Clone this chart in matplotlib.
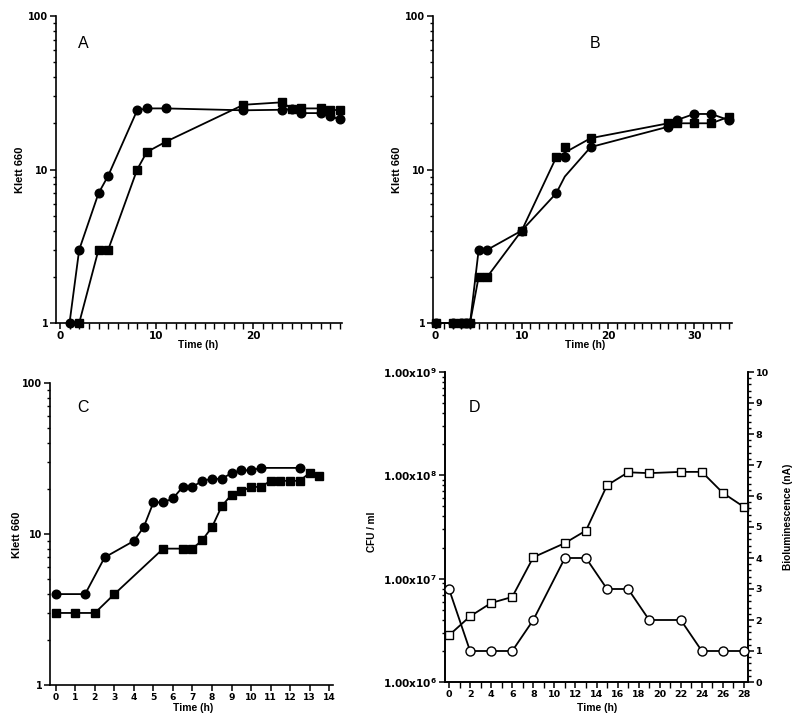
import matplotlib
matplotlib.use('Agg')
import matplotlib.pyplot as plt
from matplotlib.ticker import MultipleLocator, LogLocator, NullFormatter, FixedLocator, FixedFormatter

plt.rcParams['font.family'] = ['Liberation Sans', 'DejaVu Sans']
plt.rcParams['font.weight'] = 'bold'
plt.rcParams['mathtext.fontset'] = 'custom'
plt.rcParams['mathtext.rm'] = 'DejaVu Sans:bold'
plt.rcParams['mathtext.bf'] = 'DejaVu Sans:bold'
plt.rcParams['mathtext.default'] = 'bf'

# ---------------- data ----------------
# Panel A
A_circle_t = [1, 2, 4, 5, 8, 9, 11, 19, 23, 24, 25, 27, 28, 29]
A_circle_v = [1, 3, 7, 9.1, 24.3, 25, 25, 24.3, 24.5, 24.7, 23.3, 23.3, 22.2, 21.2]
A_square_t = [2, 4, 5, 8, 9, 11, 19, 23, 24, 25, 27, 28, 29]
A_square_v = [1, 3, 3, 10, 13, 15.2, 26.4, 27.4, 24.9, 25, 25, 24.3, 24.5]

# Panel B
B_circle_t = [0, 2, 3, 3.5, 4, 5, 6, 10, 14, 15, 18, 27, 28, 30, 32, 34]
B_circle_v = [1, 1, 1, 1, 1, 3, 3, 4, 7, 9, 14, 19, 21, 23, 23, 21]
B_circle_unmarked_t = [15]
B_square_t = [0, 2, 3, 3.5, 4, 5, 6, 10, 14, 18, 27, 28, 30, 32, 34]
B_square_v = [1, 1, 1, 1, 1, 2, 2, 4, 12, 16, 20, 20, 20, 20, 22]
B_extra_circle_t = [15]
B_extra_circle_v = [12]
B_extra_square_t = [15]
B_extra_square_v = [14]

# Panel C
C_circle_t = [0, 1.5, 2.5, 4, 4.5, 5, 5.5, 6, 6.5, 7, 7.5, 8, 8.5, 9, 9.5, 10, 10.5, 12.5]
C_circle_v = [4, 4, 7, 9, 11.1, 16.2, 16.2, 17.2, 20.5, 20.5, 22.5, 23.2, 23.2, 25.3, 26.4, 26.4, 27.4, 27.4]
C_square_t = [0, 1, 2, 3, 5.5, 6.5, 7, 7.5, 8, 8.5, 9, 9.5, 10, 10.5, 11, 11.5, 12, 12.5, 13, 13.5]
C_square_v = [3, 3, 3, 4, 8, 8, 8, 9.1, 11.1, 15.3, 18.2, 19.2, 20.5, 20.5, 22.5, 22.5, 22.5, 22.5, 25.4, 24.4]

# Panel D
D_t = [0, 2, 4, 6, 8, 11, 13, 15, 17, 19, 22, 24, 26, 28]
D_cfu = [2.83e6, 4.32e6, 5.82e6, 6.65e6, 1.61e7, 2.21e7, 2.92e7, 8.0e7, 1.07e8, 1.05e8, 1.08e8, 1.08e8, 6.75e7, 4.94e7]
D_biolum = [3, 1, 1, 1, 2, 4, 4, 3, 3, 2, 2, 1, 1, 1]
D_left_ticks = [1e6, 1e7, 1e8, 1e9]
D_left_labels = ['1.00x10$^{6}$', '1.00x10$^{7}$', '1.00x10$^{8}$', '1.00x10$^{9}$']

# ---------------- figure ----------------
W, H = 800, 727
fig = plt.figure(figsize=(W / 100, H / 100), dpi=100)


def rect(l, r, t, b):
    return [l / W, 1 - b / H, (r - l) / W, (b - t) / H]


LW = 1.3
MS_C = 6.2   # circle marker size
MS_S = 5.4   # square marker size
NUMFONT = 'DejaVu Sans'


def style(ax, xsize=6.6, ysize=6.9, right=False):
    ax.spines['top'].set_visible(False)
    if not right:
        ax.spines['right'].set_visible(False)
    for s in ax.spines.values():
        s.set_linewidth(1.2)
    ax.tick_params(which='major', direction='out', length=4, width=1.1, pad=1.5)
    ax.tick_params(which='minor', direction='out', length=2.2, width=1.0)
    for lab in ax.get_xticklabels():
        lab.set_fontweight('bold')
        lab.set_fontfamily(NUMFONT)
        lab.set_fontsize(xsize)
    for lab in ax.get_yticklabels():
        lab.set_fontweight('bold')
        lab.set_fontfamily(NUMFONT)
        lab.set_fontsize(ysize)


def klett_axis(ax):
    ax.set_yscale('log')
    ax.set_ylim(1, 100)
    ax.yaxis.set_major_locator(FixedLocator([1, 10, 100]))
    ax.yaxis.set_major_formatter(FixedFormatter(['1', '10', '100']))
    ax.yaxis.set_minor_locator(LogLocator(base=10, subs=range(2, 10)))
    ax.yaxis.set_minor_formatter(NullFormatter())


def filled(ax, t, v, marker, markevery=None):
    ms = MS_C if marker == 'o' else MS_S
    ax.plot(t, v, color='black', lw=LW, marker=marker, ms=ms, mfc='black', mec='black',
            clip_on=False, markevery=markevery, zorder=3)


# Panel A
axA = fig.add_axes(rect(56, 342, 16, 323))
klett_axis(axA)
filled(axA, A_circle_t, A_circle_v, 'o')
filled(axA, A_square_t, A_square_v, 's')
axA.set_xlim(-0.4, 29.2)
axA.xaxis.set_major_locator(FixedLocator([0, 10, 20]))
axA.xaxis.set_minor_locator(MultipleLocator(1))
style(axA, xsize=7.5)
axA.tick_params(axis='x', which='minor', length=4)

# Panel B
axB = fig.add_axes(rect(433, 732, 16, 323))
klett_axis(axB)
mk = [i for i, t in enumerate(B_circle_t) if t not in B_circle_unmarked_t]
filled(axB, B_circle_t, B_circle_v, 'o', markevery=mk)
filled(axB, B_square_t, B_square_v, 's')
axB.plot(B_extra_circle_t, B_extra_circle_v, ls='none', marker='o', ms=MS_C, color='black', zorder=3)
axB.plot(B_extra_square_t, B_extra_square_v, ls='none', marker='s', ms=MS_S, color='black', zorder=3)
axB.set_xlim(-0.3, 34.4)
axB.xaxis.set_major_locator(FixedLocator([0, 10, 20, 30]))
axB.xaxis.set_minor_locator(MultipleLocator(1))
style(axB, xsize=7.5)
axB.tick_params(axis='x', which='minor', length=4)

# Panel C
axC = fig.add_axes(rect(50, 333, 383, 685))
klett_axis(axC)
filled(axC, C_circle_t, C_circle_v, 'o')
filled(axC, C_square_t, C_square_v, 's')
axC.set_xlim(-0.3, 14.2)
axC.xaxis.set_major_locator(MultipleLocator(1))
style(axC)

# Panel D
axD = fig.add_axes(rect(445, 748, 372, 682))
axD.set_yscale('log')
axD.set_ylim(1e6, 1e9)
axD.plot(D_t, D_cfu, color='black', lw=LW, marker='s', ms=MS_S + 0.2, mfc='white', mec='black',
         mew=1.0, clip_on=False, zorder=3)
axD.yaxis.set_major_locator(FixedLocator(D_left_ticks))
axD.yaxis.set_major_formatter(FixedFormatter(D_left_labels))
axD.yaxis.set_minor_locator(LogLocator(base=10, subs=range(2, 10)))
axD.yaxis.set_minor_formatter(NullFormatter())
axD.set_xlim(-0.38, 28.38)
axD.xaxis.set_major_locator(MultipleLocator(2))
axD.xaxis.set_minor_locator(MultipleLocator(1))
style(axD, xsize=6.8, ysize=7.6, right=True)
axD.tick_params(axis='x', which='minor', length=4)

axD2 = axD.twinx()
axD2.set_ylim(0, 10)
axD2.plot(D_t, D_biolum, color='black', lw=LW, marker='o', ms=MS_C + 0.3, mfc='white', mec='black',
          mew=1.0, clip_on=False, zorder=3)
axD2.yaxis.set_major_locator(MultipleLocator(1))
axD2.yaxis.set_minor_locator(MultipleLocator(0.2))
axD2.spines['top'].set_visible(False)
for s in axD2.spines.values():
    s.set_linewidth(1.2)
axD2.tick_params(which='major', direction='out', length=4.5, width=1.1, pad=1)
axD2.tick_params(which='minor', direction='out', length=2.2, width=1.0)
for lab in axD2.get_yticklabels():
    lab.set_fontweight('bold')
    lab.set_fontfamily(NUMFONT)
    lab.set_fontsize(6.8)

# ---------------- texts ----------------
def ftext(x, y, s, **kw):
    fig.text(x / W, 1 - y / H, s, ha='center', va='center', **kw)

for (x, y, s) in [(83, 43, 'A'), (595, 43, 'B'), (83, 407, 'C'), (474, 407, 'D')]:
    ftext(x, y, s, fontsize=11.5, fontweight='normal')

for (x, y) in [(20, 170), (397, 170), (17, 535)]:
    ftext(x, y, 'Klett 660', fontsize=8, fontweight='bold', rotation=90)

for (x, y) in [(198, 345), (585, 345), (193, 708), (597, 708)]:
    ftext(x, y, 'Time (h)', fontsize=7.5, fontweight='bold')

ftext(372, 532, 'CFU / ml', fontsize=7.2, fontweight='bold', rotation=90)
ftext(788, 517, 'Bioluminescence (nA)', fontsize=7.3, fontweight='bold', rotation=90)

fig.savefig('out.png', dpi=100)
